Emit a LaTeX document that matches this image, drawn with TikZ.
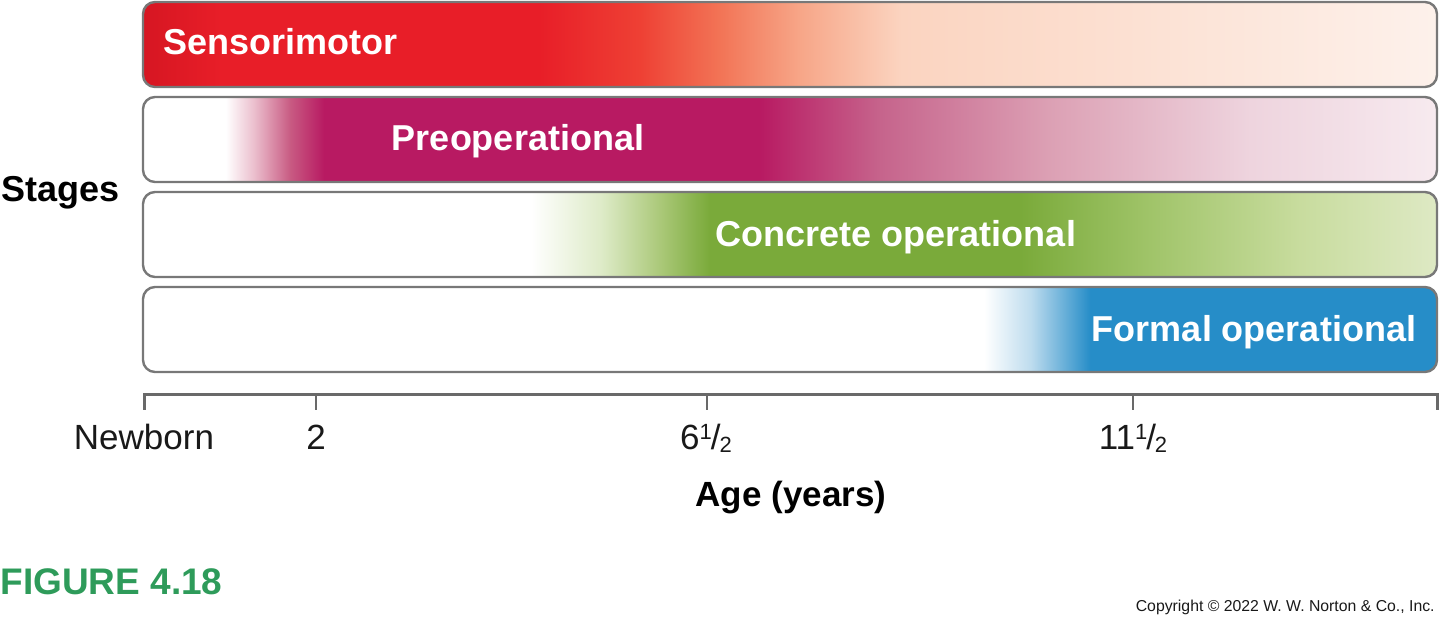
\documentclass[tikz,border=0pt]{standalone}
\usepackage{fontspec}
\setmainfont{Liberation Sans}
\usetikzlibrary{positioning}
\definecolor{StgRedDeep}{RGB}{214,22,34}
\definecolor{StgRed}{RGB}{232,30,40}
\definecolor{StgOrange}{RGB}{238,64,52}
\definecolor{StgSalmon}{RGB}{242,116,86}
\definecolor{StgPeachA}{RGB}{247,166,136}
\definecolor{StgPeachB}{RGB}{251,212,192}
\definecolor{StgPeachC}{RGB}{253,241,235}
\definecolor{StgMagenta}{RGB}{184,26,98}
\definecolor{StgBlushA}{RGB}{235,190,205}
\definecolor{StgBlushB}{RGB}{200,90,130}
\definecolor{StgRose}{RGB}{198,100,140}
\definecolor{StgPinkA}{RGB}{220,160,180}
\definecolor{StgPinkB}{RGB}{238,212,222}
\definecolor{StgPinkC}{RGB}{247,234,239}
\definecolor{StgGreen}{RGB}{122,170,58}
\definecolor{StgGreenPale}{RGB}{222,235,200}
\definecolor{StgGreenMid}{RGB}{170,200,120}
\definecolor{StgGreenA}{RGB}{160,196,105}
\definecolor{StgGreenB}{RGB}{200,220,158}
\definecolor{StgGreenC}{RGB}{222,233,196}
\definecolor{StgBlue}{RGB}{38,141,200}
\definecolor{StgBluePale}{RGB}{190,220,238}
\definecolor{StgEdge}{RGB}{120,120,120}
\definecolor{StgAxis}{RGB}{105,105,105}
\definecolor{StgFigGreen}{RGB}{46,155,90}
\definecolor{StgInk}{RGB}{25,25,25}
% bar box runs from 25bp (left) to 75bp (right)
\pgfdeclarehorizontalshading{stgSensori}{100bp}{color(0bp)=(StgRedDeep); color(25bp)=(StgRedDeep);
  color(28bp)=(StgRed); color(40.3bp)=(StgRed); color(44.2bp)=(StgOrange); color(47.3bp)=(StgSalmon);
  color(50.4bp)=(StgPeachA); color(54.3bp)=(StgPeachB); color(75bp)=(StgPeachC); color(100bp)=(StgPeachC)}
\pgfdeclarehorizontalshading{stgPreop}{100bp}{color(0bp)=(white); color(28.2bp)=(white);
  color(29.3bp)=(StgBlushA); color(30.7bp)=(StgBlushB); color(32bp)=(StgMagenta); color(48.8bp)=(StgMagenta);
  color(53.5bp)=(StgRose); color(60bp)=(StgPinkA); color(67.8bp)=(StgPinkB); color(75bp)=(StgPinkC);
  color(100bp)=(StgPinkC)}
\pgfdeclarehorizontalshading{stgConcrete}{100bp}{color(0bp)=(white); color(40bp)=(white);
  color(42.7bp)=(StgGreenPale); color(45bp)=(StgGreenMid); color(46.9bp)=(StgGreen); color(58.9bp)=(StgGreen);
  color(63.9bp)=(StgGreenA); color(69.7bp)=(StgGreenB); color(75bp)=(StgGreenC); color(100bp)=(StgGreenC)}
\pgfdeclarehorizontalshading{stgFormal}{100bp}{color(0bp)=(white); color(57.5bp)=(white);
  color(59.3bp)=(StgBluePale); color(61.6bp)=(StgBlue); color(100bp)=(StgBlue)}
\newcommand{\halfyr}{\raisebox{0.55ex}{\fontsize{11}{11}\selectfont 1}\kern-0.03em/\kern-0.03em\raisebox{-0.15ex}{\fontsize{11}{11}\selectfont 2}}
\tikzset{
  stg/bar/.style={
    draw=StgEdge,
    line width=1.2pt,
    rounded corners=6pt,
    inner sep=0pt,
    minimum width=647pt,
    minimum height=42.5pt
  },
  stg/name/.style={font=\fontsize{18}{21}\selectfont\bfseries, text=white, inner sep=0pt, anchor=base},
  stg/tick/.style={font=\fontsize{17.5}{20}\selectfont, text=StgInk, inner sep=0pt, anchor=base},
  stg/title/.style={font=\fontsize{17.5}{20}\selectfont\bfseries, text=black, inner sep=0pt, anchor=base},
  stg/axis/.style={draw=StgAxis, line width=1.5pt},
  stg/minor/.style={draw=StgAxis, line width=1pt}
}

\begin{document}
\begin{tikzpicture}[x=0.5pt,y=0.5pt]
  \useasboundingbox (0,0) rectangle (1440,619);
  % stage bars
  \node[stg/bar, shading=stgSensori] (sm) at (790,574.5) {};
  \node[stg/bar, shading=stgPreop] (po) at (790,479.5) {};
  \node[stg/bar, shading=stgConcrete] (co) at (790,384.5) {};
  \node[stg/bar, shading=stgFormal] (fo) at (790,289.5) {};
  \node[stg/name, anchor=base west] (smtext) at (163,564) {Sensorimotor};
  \node[stg/name] (potext) at (518,468) {Preoperational};
  \node[stg/name] (cotext) at (896,372) {Concrete operational};
  \node[stg/name] (fotext) at (1254,277) {Formal operational};
  \node[stg/title, font=\fontsize{18}{21}\selectfont\bfseries, anchor=base west] (stages) at (1,417) {Stages};
  % age axis
  \draw[stg/axis] (144,209) |- (1437,224) -- (1437,209);
  \foreach \x in {316,707,1133}
    \draw[stg/minor] (\x,224) -- (\x,209);
  \node[stg/tick] (newborn) at (144,169) {Newborn};
  \node[stg/tick] (two) at (316,169) {2};
  \node[stg/tick] (sixhalf) at (706,169) {6\halfyr};
  \node[stg/tick] (elevenhalf) at (1133,169) {11\halfyr};
  \node[stg/title] (age) at (791,112) {Age (years)};
  \node[font=\fontsize{18.5}{21}\selectfont\bfseries, text=StgFigGreen, inner sep=0pt, anchor=base west] (fig) at (0,24) {FIGURE 4.18};
  \node[font=\fontsize{7.9}{9}\selectfont, text=StgInk, inner sep=0pt, anchor=base east] (copy) at (1435,7) {Copyright © 2022 W. W. Norton \& Co., Inc.};
\end{tikzpicture}
\end{document}
